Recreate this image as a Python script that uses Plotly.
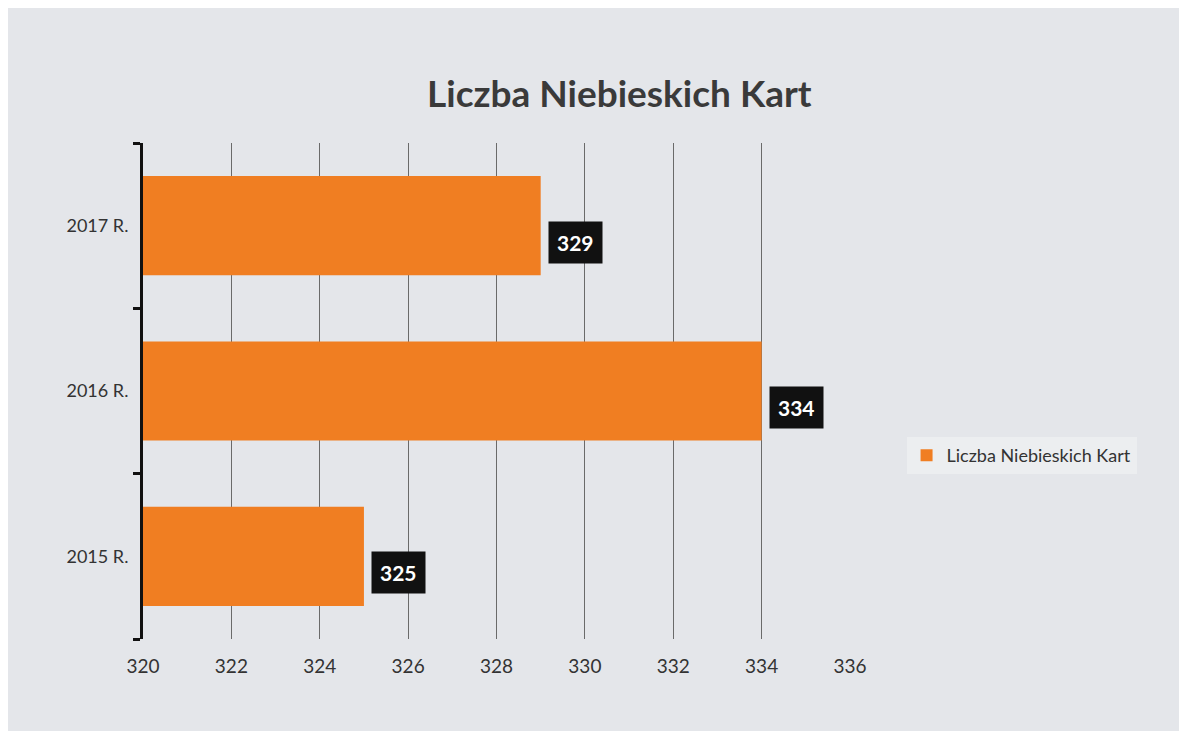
"""Liczba Niebieskich Kart - horizontal bar chart"""

import plotly.graph_objects as go

YEARS = ['2015 R.', '2016 R.', '2017 R.']
CARDS = [325, 334, 329]
TICKS = [320, 322, 324, 326, 328, 330, 332, 334, 336]

ORANGE = '#F07E22'
FONT = 'Lato, Open Sans, sans-serif'

fig = go.Figure()
fig.add_trace(go.Bar(
    y=YEARS, x=CARDS, orientation='h', name='Liczba Niebieskich Kart',
    marker=dict(color=ORANGE, line=dict(width=0)), width=0.6,
))

# value boxes: black background, white bold text, sitting right of each bar
for year, v in zip(YEARS, CARDS):
    fig.add_annotation(
        x=v, y=year, text=f'<b>{v}</b>', showarrow=False,
        xanchor='left', yanchor='top', xshift=7, yshift=5,
        font=dict(color='white', size=21, family=FONT),
        bgcolor='#111111', borderpad=8,
    )

fig.update_layout(
    width=1187, height=731,
    title=dict(text='<b>Liczba Niebieskich Kart</b>', x=0.515, y=0.9, xanchor='center',
               font=dict(size=37, color='#3a3a3a', family=FONT)),
    paper_bgcolor='#e4e6ea', plot_bgcolor='#e4e6ea',
    margin=dict(l=135, r=345, t=135, b=100),
    font=dict(family=FONT, color='#333333', size=16),
    showlegend=True,
    legend=dict(x=1.08, y=0.37, yanchor='middle', bgcolor='#eceef0',
                font=dict(size=18, color='#333333')),
)
fig.update_xaxes(range=[320, 336], tickvals=TICKS, showgrid=True, gridcolor='#6a6a6a',
                 gridwidth=1, zeroline=False, ticks='', ticklabelstandoff=14,
                 tickfont=dict(size=19, color='#333333'))
fig.update_yaxes(categoryorder='array', categoryarray=YEARS, showline=True,
                 linecolor='#111111', linewidth=3, ticks='outside', tickson='boundaries',
                 ticklen=7, tickcolor='#111111', tickwidth=3, showgrid=False,
                 ticklabelstandoff=8, tickfont=dict(size=18, color='#333333'))

fig.write_html('out.html')
